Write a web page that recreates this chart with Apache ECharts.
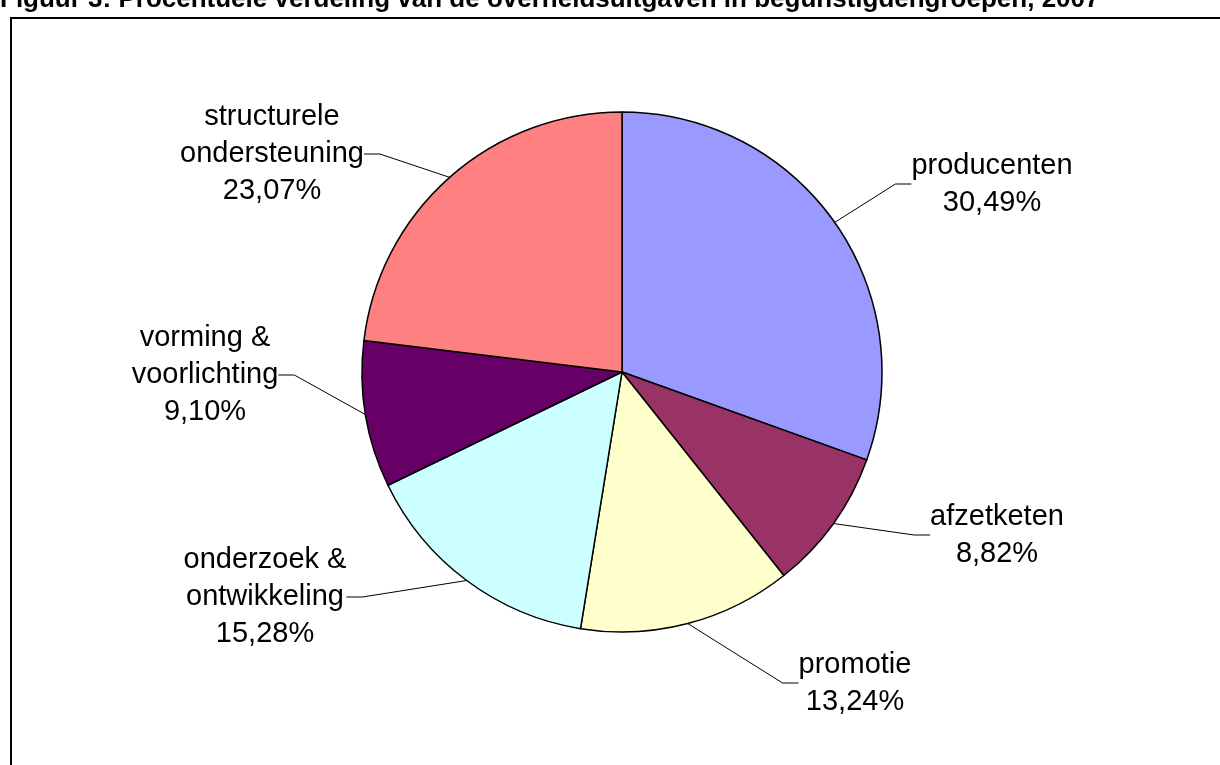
<!DOCTYPE html>
<html>
<head>
<meta charset="utf-8">
<script src="https://cdn.jsdelivr.net/npm/echarts@6/dist/echarts.min.js"></script>
<style>
	html, body { margin: 0; padding: 0; background: #fff; }
	#chart { width: 1220px; height: 765px; }
</style>
</head>
<body>
<div id="chart"></div>
<script>
	// begunstigdengroepen, met de klok mee vanaf 12 uur
	const categories = [
		'producenten',
		'afzetketen',
		'promotie',
		'onderzoek &\nontwikkeling',
		'vorming &\nvoorlichting',
		'structurele\nondersteuning'
	]
	const shares = [30.49, 8.82, 13.24, 15.28, 9.10, 23.07]
	const colors = ['#9999ff', '#993366', '#ffffcc', '#ccffff', '#660066', '#ff8080']

	// plaats van de labels (midden van het tekstblok)
	const labelPos = [
		[992, 184],
		[997, 535],
		[855, 683],
		[265, 597],
		[205, 375],
		[272, 154]
	]

	const titleText = 'Figuur 3: Procentuele verdeling van de overheidsuitgaven in begunstigdengroepen, 2007'

	const chart = echarts.init(document.getElementById('chart'))

	const option = {
		backgroundColor: '#fff',
		animation: false,
		textStyle: { fontFamily: 'Liberation Sans, Arial, sans-serif' },
		graphic: [
			{
				type: 'rect',
				shape: { x: 11, y: 18, width: 1400, height: 1000 },
				style: { fill: 'none', stroke: '#000', lineWidth: 2 },
				silent: true
			},
			{
				type: 'text',
				x: 0,
				y: -13,
				style: {
					text: titleText,
					font: 'bold 26px Liberation Sans, Arial, sans-serif',
					fill: '#000',
					textVerticalAlign: 'top'
				},
				silent: true
			}
		],
		series: [
			{
				type: 'pie',
				center: [622, 372],
				radius: 260,
				startAngle: 90,
				clockwise: true,
				avoidLabelOverlap: false,
				itemStyle: {
					borderColor: '#000',
					borderWidth: 1.5
				},
				label: {
					show: true,
					position: 'outside',
					color: '#000',
					fontSize: 29,
					lineHeight: 37,
					align: 'center',
					formatter: (p) => p.name + '\n' + p.value.toFixed(2).replace('.', ',') + '%'
				},
				labelLine: {
					show: true,
					length: 20,
					length2: 16,
					lineStyle: { color: '#000', width: 1 }
				},
				labelLayout: (params) => {
					const pos = labelPos[params.dataIndex]
					return {
						x: pos[0],
						y: pos[1],
						align: 'center',
						verticalAlign: 'middle'
					}
				},
				emphasis: { disabled: true },
				data: categories.map((name, i) => ({
					name: name,
					value: shares[i],
					itemStyle: { color: colors[i] }
				}))
			}
		]
	}

	chart.setOption(option)
</script>
</body>
</html>
